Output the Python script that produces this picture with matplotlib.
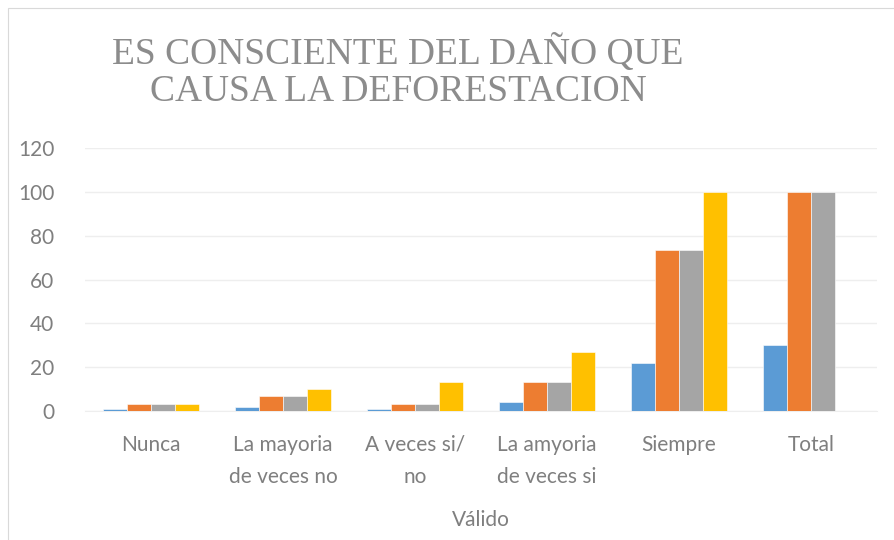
import matplotlib
matplotlib.use("Agg")
import matplotlib.pyplot as plt
import numpy as np
from matplotlib.patches import Rectangle

categories = ["Nunca", "La mayoria\nde veces no", "A veces si/\nno", "La amyoria\nde veces si", "Siempre", "Total"]
frecuencia = [1, 2, 1, 4, 22, 30]
porcentaje = [3.3, 6.7, 3.3, 13.3, 73.3, 100]
porcentaje_valido = [3.3, 6.7, 3.3, 13.3, 73.3, 100]
porcentaje_acumulado = [3.3, 10.0, 13.3, 26.7, 100, np.nan]
yticks = [0, 20, 40, 60, 80, 100, 120]

series = [frecuencia, porcentaje, porcentaje_valido, porcentaje_acumulado]
colors = ["#5B9BD5", "#ED7D31", "#A5A5A5", "#FFC000"]

W, H = 894, 540
fig = plt.figure(figsize=(W/100, H/100), dpi=100)
fig.patch.set_facecolor("white")

# chart frame
fig.patches.append(Rectangle((8/W, -0.05), 1.1, 1 - 8/H + 0.05, transform=fig.transFigure,
                             fill=False, edgecolor="#D9D9D9", linewidth=0.8))

ax = fig.add_axes([85/W, 1 - 411/H, (877-85)/W, (411-148)/H])
x = np.arange(len(categories))
bw = 0.182
for i, (vals, c) in enumerate(zip(series, colors)):
    ax.bar(x + (i - 1.5) * bw, vals, width=bw, color=c, edgecolor="white", linewidth=0.4, zorder=3)

ax.set_xlim(-0.5, len(categories) - 0.5)
ax.set_ylim(0, 120)
ax.set_yticks(yticks)
ax.grid(axis="y", color="#EEEEEE", linewidth=1, zorder=0)
for s in ["top", "right", "left"]:
    ax.spines[s].set_visible(False)
ax.spines["bottom"].set_color("#EEEEEE")
ax.tick_params(axis="both", length=0, colors="#7F7F7F", labelsize=15)
ax.tick_params(axis="y", pad=22)
ax.tick_params(axis="x", pad=17)
ax.set_xticks(x)
ax.set_xticklabels(categories, family="Lato", color="#7F7F7F", linespacing=1.75)
for lab in ax.get_yticklabels():
    lab.set_family("Lato")
ax.set_xlabel("Válido", family="Lato", color="#7F7F7F", fontsize=15, labelpad=17)

fig.text(398/W, 1 - 53/H, "ES CONSCIENTE DEL DAÑO QUE", family="Liberation Serif",
         fontsize=27, color="#8C8C8C", ha="center", va="center")
fig.text(398/W, 1 - 92/H, "CAUSA LA DEFORESTACION", family="Liberation Serif",
         fontsize=27, color="#8C8C8C", ha="center", va="center")

fig.savefig("out.png", dpi=100)
